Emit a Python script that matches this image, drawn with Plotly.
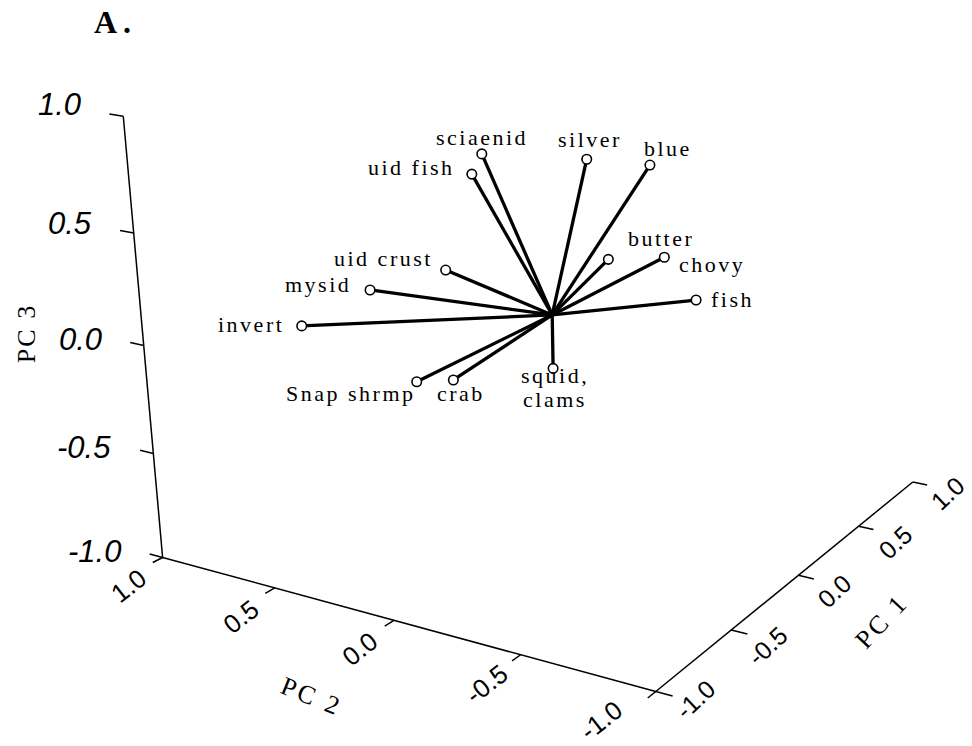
import numpy as np
import plotly.graph_objects as go

W, H = 972, 746

# ---------------- data: PCA loadings ----------------
names = ["sciaenid", "uid fish", "uid crust", "mysid", "invert", "Snap shrmp", "crab",
         "squid,|clams", "silver", "blue", "butter", "chovy", "fish"]
pc1 = [0.10, 0.10, -0.10, -0.20, -0.30, -0.20, -0.10, 0.00, 0.30, 0.40, 0.30, 0.50, 0.40]
pc2 = [0.352, 0.398, 0.385, 0.650, 0.892, 0.459, 0.368, 0.000, 0.034, -0.171, -0.054, -0.175, -0.365]
pc3 = [0.661, 0.559, 0.168, 0.053, -0.137, -0.350, -0.359, -0.256, 0.636, 0.616, 0.177, 0.147, 0.010]
ticks = [-1.0, -0.5, 0.0, 0.5, 1.0]
tick_labels = ["-1.0", "-0.5", "0.0", "0.5", "1.0"]

# ---------------- view (perspective camera, PC1/PC2/PC3 -> page) ----------------
CAM = np.array([[210.026, -205.584, -23.9792, 552.204],
                [-39.5469, -26.1886, -222.150, 314.944],
                [0.107353, 0.0578015, -0.0369714, 1.0]])


def proj(p):
    h = CAM @ np.array([p[0], p[1], p[2], 1.0])
    return h[0] / h[2], h[1] / h[2]


serif = "Liberation Serif"
sans = "Liberation Sans"


def spaced(s, ls="letter-spacing:2.5px"):
    return '<span style="%s">%s</span>' % (ls, s)


fig = go.Figure()

# axes (box edges) and ticks
ax_lines = [((-1, -1, -1), (1, -1, -1)), ((-1, 1, -1), (-1, -1, -1)), ((-1, 1, -1), (-1, 1, 1))]
lx = []; ly = []
for a, b in ax_lines:
    for pnt in (a, b):
        x, y = proj(pnt); lx.append(x); ly.append(y)
    lx.append(None); ly.append(None)
for t in ticks:
    for a, b in [((t, -1, -1), (t, -1.06, -1)), ((-1, t, -1), (-1.05, t, -1)), ((-1, 1, t), (-1, 1.06, t))]:
        for pnt in (a, b):
            x, y = proj(pnt); lx.append(x); ly.append(y)
        lx.append(None); ly.append(None)
fig.add_trace(go.Scatter(x=lx, y=ly, mode="lines", line=dict(color="black", width=1.5), hoverinfo="skip"))

# loading vectors
ox, oy = proj((0, 0, 0))
vx = []; vy = []; mx = []; my = []
for i in range(len(names)):
    x, y = proj((pc1[i], pc2[i], pc3[i]))
    vx += [ox, x, None]; vy += [oy, y, None]
    mx.append(x); my.append(y)
fig.add_trace(go.Scatter(x=vx, y=vy, mode="lines", line=dict(color="black", width=3.3), hoverinfo="skip"))
fig.add_trace(go.Scatter(x=mx, y=my, mode="markers",
                         marker=dict(symbol="circle", size=9.5, color="white", line=dict(color="black", width=1.6)),
                         hoverinfo="skip"))

ann = []
# label placement (pixel offset of each text line centre from its point)
label_off = {"sciaenid": [(0, -16.5)], "uid fish": [(-60, -6.5)], "uid crust": [(-62.4, -11.5)],
             "mysid": [(-52.2, -5)], "invert": [(-50.4, -1)], "Snap shrmp": [(-65.7, 11.8)],
             "crab": [(8, 13.5)], "squid,|clams": [(1.8, 7.5), (1.5, 31.5)],
             "silver": [(3.6, -19.8)], "blue": [(17.8, -16.5)], "butter": [(52.5, -20.8)],
             "chovy": [(47.9, 7.7)], "fish": [(36.2, -0.5)]}
for i, nm in enumerate(names):
    for part, (dx, dy) in zip(nm.split("|"), label_off[nm]):
        ann.append(dict(x=mx[i], y=my[i], text=spaced(part), showarrow=False, xanchor="center", yanchor="middle",
                        xshift=dx, yshift=-dy, font=dict(family=serif, size=22, color="black")))

z_lab_up = {-1.0: 6, -0.5: 6, 0.0: 6, 0.5: 10, 1.0: 12}
y_lab_dx = {-1.0: -54, -0.5: -34, 0.0: -34, 0.5: -34, 1.0: -34}
x_lab_d = {-1.0: (40, -8), -0.5: (36, -16), 0.0: (36, -16), 0.5: (37, -16), 1.0: (35, -11)}
for t, lab in zip(ticks, tick_labels):
    x, y = proj((-1, 1, t))
    ann.append(dict(x=x, y=y, text="<i>%s</i>" % lab, showarrow=False, xanchor="right", yanchor="middle",
                    xshift=-40, yshift=z_lab_up[t], font=dict(family=sans, size=31, color="black")))
    x, y = proj((-1, t, -1))
    ann.append(dict(x=x, y=y, text=lab, showarrow=False, xanchor="center", yanchor="middle",
                    xshift=y_lab_dx[t], yshift=-29, textangle=-38,
                    font=dict(family=sans, size=26, color="black")))
    x, y = proj((t, -1, -1))
    ann.append(dict(x=x, y=y, text=lab, showarrow=False, xanchor="center", yanchor="middle",
                    xshift=x_lab_d[t][0], yshift=x_lab_d[t][1], textangle=-43,
                    font=dict(family=sans, size=25, color="black")))

# axis titles (placed relative to the projected axis midpoints)
x, y = proj((-1, 1, 0))
ann.append(dict(x=x, y=y, text=spaced("PC 3", "letter-spacing:2px"), showarrow=False, textangle=-90,
                xshift=-117, yshift=12, font=dict(family=serif, size=26, color="black")))
x, y = proj((-1, 0, -1))
ann.append(dict(x=x, y=y, text=spaced("PC 2", "letter-spacing:3px"), showarrow=False, textangle=22,
                xshift=-82, yshift=-76, font=dict(family=serif, size=26, color="black")))
x, y = proj((0, -1, -1))
ann.append(dict(x=x, y=y, text=spaced("PC 1", "letter-spacing:3px"), showarrow=False, textangle=-47,
                xshift=83, yshift=-46, font=dict(family=serif, size=26, color="black")))
ann.append(dict(x=115, y=22, text=spaced("<b>A.</b>", "letter-spacing:6px"), showarrow=False,
                xanchor="center", yanchor="middle", font=dict(family=serif, size=32, color="black")))
for a in ann:
    a.setdefault("xref", "x"); a.setdefault("yref", "y")

fig.update_layout(width=W, height=H, margin=dict(l=0, r=0, t=0, b=0), showlegend=False,
                  plot_bgcolor="white", paper_bgcolor="white", annotations=ann,
                  xaxis=dict(range=[0, W], visible=False, fixedrange=True),
                  yaxis=dict(range=[H, 0], visible=False, fixedrange=True))
fig.write_html("out.html")
